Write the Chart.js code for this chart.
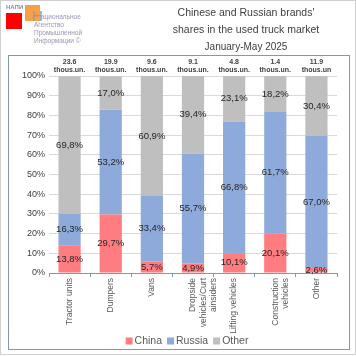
<!DOCTYPE html>
<html>
<head>
<meta charset="utf-8">
<script src="https://cdn.jsdelivr.net/npm/chart.js@4.4.1/dist/chart.umd.min.js"></script>
<style>
body { margin: 0; background: #fff; }
#wrap { position: relative; width: 356px; height: 356px; overflow: hidden; font-family: "Liberation Sans", Arial, sans-serif; }
#chart { position: absolute; left: 0; top: 0; }
.abs { position: absolute; white-space: nowrap; }
#title { left: 138px; width: 216px; top: 4px; text-align: center; color: #404040; font-size: 10.5px; line-height: 17px; }
#sub { left: 138px; width: 216px; top: 40px; text-align: center; color: #404040; font-size: 10px; line-height: 14px; }
.logo-txt { color: #9c95b5; font-size: 6.5px; line-height: 8px; }
</style>
</head>
<body>
<div id="wrap">
  <canvas id="chart" width="356" height="356"></canvas>
  <div class="abs" style="left:6px;top:4px;font-size:6px;font-weight:bold;color:#7f8fb0;">НАПИ</div>
  <div class="abs" style="left:6px;top:13px;width:16px;height:16px;background:#ff0000;"></div>
  <div class="abs" style="left:25px;top:5px;width:15px;height:16px;background:#f7a04a;"></div>
  <div class="abs" style="left:32px;top:7px;font-size:15px;color:#9a9a9a;">Н</div>
  <div class="abs logo-txt" style="left:41px;top:13px;">ациональное</div>
  <div class="abs logo-txt" style="left:34px;top:21px;">Агентство</div>
  <div class="abs logo-txt" style="left:34px;top:29px;">Промышленной</div>
  <div class="abs logo-txt" style="left:34px;top:37px;">Информации ©</div>
  <div class="abs" id="title">Chinese and Russian brands'<br>shares in the used truck market</div>
  <div class="abs" id="sub">January-May 2025</div>
</div>
<script>
// categories and values, Jan-May 2025
const categories = [
    ['Tractor units'],
    ['Dumpers'],
    ['Vans'],
    ['Dropside', 'vehicles/Curt', 'ainsiders'],
    ['Lifting vehicles'],
    ['Construction', 'vehicles'],
    ['Other']
];
const totals = ['23.6', '19.9', '9.6', '9.1', '4.8', '1.4', '11.9'];
const totalUnits = ['thous.un.', 'thous.un.', 'thous.un.', 'thous.un.', 'thous.un.', 'thous.un.', 'thous.un'];
const chinaShare = [13.8, 29.7, 5.7, 4.9, 10.1, 20.1, 2.6];
const russiaShare = [16.3, 53.2, 33.4, 55.7, 66.8, 61.7, 67.0];
const otherShare = [69.8, 17.0, 60.9, 39.4, 23.1, 18.2, 30.4];
const yTicks = [0, 10, 20, 30, 40, 50, 60, 70, 80, 90, 100];

const FONT = '"Liberation Sans", Arial, sans-serif';

// frame around the chart
const framePlugin = {
    id: 'frame',
    beforeDraw(chart) {
        const ctx = chart.ctx;
        ctx.save();
        ctx.strokeStyle = '#d0d0d0';
        ctx.lineWidth = 1;
        ctx.strokeRect(0.5, 0.5, 355, 354);
        ctx.strokeStyle = '#8497b0';
        ctx.strokeRect(8.5, 55.5, 341, 294);
        ctx.restore();
    }
};

// percentage labels inside segments + totals above bars
const labelsPlugin = {
    id: 'segLabels',
    afterDatasetsDraw(chart) {
        const ctx = chart.ctx;
        ctx.save();
        ctx.textAlign = 'center';
        ctx.textBaseline = 'middle';
        ctx.fillStyle = '#262626';
        ctx.font = '9.5px ' + FONT;
        chart.data.datasets.forEach((ds, i) => {
            chart.getDatasetMeta(i).data.forEach((bar, j) => {
                const y = (bar.y + bar.base) / 2;
                ctx.fillText(ds.data[j].toFixed(1).replace('.', ',') + '%', bar.x, y);
            });
        });
        const top = chart.chartArea.top;
        ctx.font = 'bold 7px ' + FONT;
        ctx.fillStyle = '#404040';
        chart.getDatasetMeta(0).data.forEach((bar, j) => {
            ctx.fillText(totals[j], bar.x, top - 14);
            ctx.fillText(totalUnits[j], bar.x, top - 6);
        });
        ctx.restore();
    }
};

// legend drawn under the axis labels, like the Excel one
const legendPlugin = {
    id: 'bottomLegend',
    afterDraw(chart) {
        const ctx = chart.ctx;
        const box = 7, gap = 2, space = 5, cy = 341, cx = 187;
        ctx.save();
        ctx.font = '10.5px ' + FONT;
        ctx.textBaseline = 'middle';
        const items = chart.data.datasets.map(ds => ({ text: ds.label, color: ds.backgroundColor, w: ctx.measureText(ds.label).width }));
        let total = items.reduce((s, it) => s + box + gap + it.w, 0) + space * (items.length - 1);
        let x = cx - total / 2;
        items.forEach(it => {
            ctx.fillStyle = it.color;
            ctx.fillRect(x, cy - box / 2, box, box);
            ctx.fillStyle = '#595959';
            ctx.fillText(it.text, x + box + gap, cy);
            x += box + gap + it.w + space;
        });
        ctx.restore();
    }
};

new Chart(document.getElementById('chart'), {
    type: 'bar',
    data: {
        labels: categories,
        datasets: [
            { label: 'China', data: chinaShare, backgroundColor: '#ff7c80' },
            { label: 'Russia', data: russiaShare, backgroundColor: '#8eaadb' },
            { label: 'Other', data: otherShare, backgroundColor: '#bfbfbf' }
        ]
    },
    options: {
        responsive: false,
        devicePixelRatio: 1,
        animation: false,
        layout: { padding: { top: 76, right: 19, bottom: 0, left: 0 } },
        datasets: { bar: { barPercentage: 0.54, categoryPercentage: 1 } },
        scales: {
            x: {
                stacked: true,
                afterFit: s => { s.height = 83; },
                grid: { offset: true, drawOnChartArea: false, color: '#8497b0', tickLength: 4 },
                border: { color: '#8497b0' },
                ticks: {
                    autoSkip: false, minRotation: 90, maxRotation: 90, padding: 1,
                    color: '#595959', font: { family: FONT, size: 8.5 }
                }
            },
            y: {
                stacked: true,
                min: 0,
                max: 100,
                afterFit: s => { s.width = 49; },
                afterBuildTicks: s => { s.ticks = yTicks.map(v => ({ value: v })); },
                grid: { color: '#d9d9d9', drawTicks: false },
                border: { display: false },
                ticks: {
                    padding: 4, color: '#404040', font: { family: FONT, size: 9 },
                    callback: v => v + '%'
                }
            }
        },
        plugins: {
            legend: { display: false },
            tooltip: { enabled: false }
        }
    },
    plugins: [framePlugin, labelsPlugin, legendPlugin]
});
</script>
</body>
</html>
